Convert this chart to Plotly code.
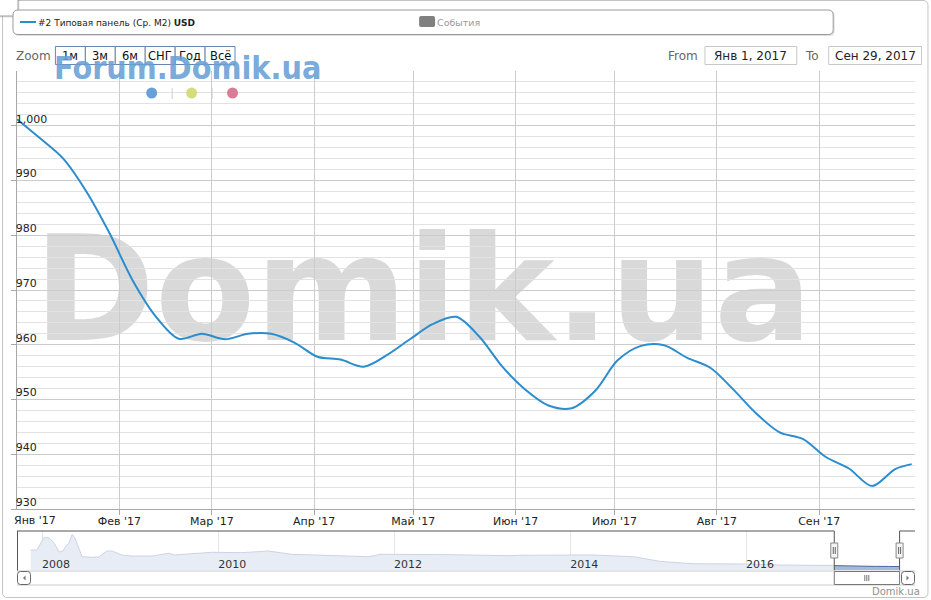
import plotly.graph_objects as go

# ---------------- data ----------------
series_name = "#2 Типовая панель (Ср. М2)"
currency = "USD"
events_name = "События"

dates = ["2017-01-01", "2017-01-08", "2017-01-15", "2017-01-22", "2017-01-29",
         "2017-02-05", "2017-02-12", "2017-02-19", "2017-02-26", "2017-03-05",
         "2017-03-12", "2017-03-19", "2017-03-26", "2017-04-02", "2017-04-09",
         "2017-04-16", "2017-04-23", "2017-04-30", "2017-05-07", "2017-05-14",
         "2017-05-21", "2017-05-28", "2017-06-04", "2017-06-11", "2017-06-18",
         "2017-06-25", "2017-07-02", "2017-07-09", "2017-07-16", "2017-07-23",
         "2017-07-30", "2017-08-06", "2017-08-13", "2017-08-20", "2017-08-27",
         "2017-09-03", "2017-09-10", "2017-09-17", "2017-09-24", "2017-09-29"]
values = [1001.2, 997.7, 994.0, 988.0, 980.4,
          971.8, 965.2, 961.1, 962.0, 961.0,
          962.0, 962.0, 960.4, 957.8, 957.3,
          956.0, 958.1, 961.0, 963.8, 965.1,
          961.5, 956.0, 951.8, 948.9, 948.4,
          951.5, 957.2, 959.8, 959.9, 957.6,
          955.8, 951.8, 947.4, 944.0, 942.8,
          939.5, 937.4, 934.2, 937.3, 938.2]

nav_dates = ["2007-11-15", "2007-12-10", "2008-01-09", "2008-01-30", "2008-02-20",
             "2008-03-12", "2008-03-28", "2008-04-10", "2008-04-22", "2008-05-05",
             "2008-05-17", "2008-06-03", "2008-06-15", "2008-07-27", "2008-08-24",
             "2008-09-26", "2008-10-17", "2008-11-27", "2009-01-08", "2009-04-01",
             "2009-06-10", "2009-07-04", "2009-12-05", "2010-04-08", "2010-07-28",
             "2010-11-01", "2011-04-15", "2011-09-16", "2011-11-08", "2012-07-14",
             "2013-04-17", "2013-06-10", "2014-03-27", "2014-09-21", "2015-01-11",
             "2015-05-27", "2015-12-20", "2016-05-23", "2016-12-25"]
nav_values = [2084, 2084, 2935, 2935, 2568,
              1946, 2015, 2382, 2568, 3170,
              2893, 2200, 1620, 1580, 1600,
              2015, 2015, 1738, 1669, 1669,
              1856, 1738, 1925, 1900, 2015,
              1787, 1680, 1620, 1787, 1770,
              1690, 1720, 1740, 1620, 1295,
              1130, 1116, 1046, 1012]

month_ticks = ["2017-01-01", "2017-02-01", "2017-03-01", "2017-04-01", "2017-05-01",
               "2017-06-01", "2017-07-01", "2017-08-01", "2017-09-01"]
month_labels = ["Янв '17", "Фев '17", "Мар '17", "Апр '17", "Май '17",
                "Июн '17", "Июл '17", "Авг '17", "Сен '17"]
y_ticks = [930, 940, 950, 960, 970, 980, 990, 1000]
nav_year_ticks = ["2008-01-01", "2010-01-01", "2012-01-01", "2014-01-01", "2016-01-01"]
nav_year_labels = ["2008", "2010", "2012", "2014", "2016"]
zoom_buttons = ["1м", "3м", "6м", "СНГ", "Год", "Всё"]
from_text = "Янв 1, 2017"
to_text = "Сен 29, 2017"

# ---------------- geometry helpers ----------------
W, H = 931, 600
ML, MR, MT, MB = 15, 16, 71, 30
PW = W - ML - MR
PH = H - MT - MB


def X(x):
    return (x - ML) / PW


def Y(y):
    return (H - MB - y) / PH


def rrect_path(x0, y0, x1, y1, r):
    return (f"M{X(x0 + r)},{Y(y0)} L{X(x1 - r)},{Y(y0)} Q{X(x1)},{Y(y0)} {X(x1)},{Y(y0 + r)} "
            f"L{X(x1)},{Y(y1 - r)} Q{X(x1)},{Y(y1)} {X(x1 - r)},{Y(y1)} "
            f"L{X(x0 + r)},{Y(y1)} Q{X(x0)},{Y(y1)} {X(x0)},{Y(y1 - r)} "
            f"L{X(x0)},{Y(y0 + r)} Q{X(x0)},{Y(y0)} {X(x0 + r)},{Y(y0)} Z")


FONT = "DejaVu Sans"
LINE = "#2b8cce"

fig = go.Figure()

# main series
fig.add_trace(go.Scatter(
    x=dates, y=values, mode="lines", name=series_name,
    line=dict(color=LINE, width=2, shape="spline", smoothing=0.9),
    xaxis="x", yaxis="y", hoverinfo="skip", showlegend=False))

# navigator series (full history + current)
fig.add_trace(go.Scatter(
    x=nav_dates + dates, y=nav_values + values, mode="lines",
    line=dict(color="#cbd4e6", width=1), fill="tozeroy", fillcolor="#e8ecf4",
    xaxis="x2", yaxis="y2", hoverinfo="skip", showlegend=False))
fig.add_trace(go.Scatter(
    x=dates, y=values, mode="lines",
    line=dict(color="#4a6ca6", width=1), fill="tozeroy", fillcolor="#a9b8d8",
    xaxis="x2", yaxis="y2", hoverinfo="skip", showlegend=False))

shapes = []
annotations = []

# outer frame
shapes.append(dict(type="path", xref="paper", yref="paper", path=rrect_path(0.5, 0.5, 928, 597.5, 5),
                   line=dict(color="#c4c4c4", width=1), fillcolor="rgba(0,0,0,0)", layer="below"))

# watermark (below grid)
shapes.append(dict(type="rect", xref="paper", yref="paper",
                   x0=X(39), x1=X(805), y0=Y(340), y1=Y(217),
                   line=dict(width=0), fillcolor="rgba(0,0,0,0)", layer="below",
                   label=dict(text="Domik.ua", textposition="middle center",
                              font=dict(family=FONT, size=146, color="#d9d9d9", weight="bold"))))

# small top-left box
shapes.append(dict(type="path", xref="paper", yref="paper", path=rrect_path(-6, -6, 17.5, 17.5, 4),
                   line=dict(width=0), fillcolor="rgba(0,0,0,0.12)"))
shapes.append(dict(type="path", xref="paper", yref="paper", path=rrect_path(-6, -6, 16, 16, 4),
                   line=dict(color="#a0a0a0", width=1), fillcolor="white"))

# legend box
shapes.append(dict(type="path", xref="paper", yref="paper", path=rrect_path(12, 11, 834.5, 36, 5),
                   line=dict(width=0), fillcolor="rgba(0,0,0,0.12)"))
shapes.append(dict(type="path", xref="paper", yref="paper", path=rrect_path(11, 10, 833, 34.5, 5),
                   line=dict(color="#9a9a9a", width=1), fillcolor="white"))
shapes.append(dict(type="line", xref="paper", yref="paper", x0=X(18), x1=X(34), y0=Y(22), y1=Y(22),
                   line=dict(color=LINE, width=2)))
annotations.append(dict(xref="paper", yref="paper", x=X(34), y=Y(22.5), xanchor="left", yanchor="middle",
                        text=f"{series_name} <b>{currency}</b>", showarrow=False,
                        font=dict(family=FONT, size=9, color="#222")))
shapes.append(dict(type="path", xref="paper", yref="paper", path=rrect_path(418, 16, 434, 27, 2),
                   line=dict(width=0), fillcolor="#808080"))
annotations.append(dict(xref="paper", yref="paper", x=X(434), y=Y(22.5), xanchor="left", yanchor="middle",
                        text=events_name, showarrow=False,
                        font=dict(family=FONT, size=9.5, color="#999999")))

# zoom buttons
annotations.append(dict(xref="paper", yref="paper", x=X(11.5), y=Y(56), xanchor="left", yanchor="middle",
                        text="Zoom", showarrow=False, font=dict(family=FONT, size=12, color="#666666")))
bx0, bw = 53.5, 30
for i, lab in enumerate(zoom_buttons):
    x0 = bx0 + i * bw
    shapes.append(dict(type="rect", xref="paper", yref="paper", x0=X(x0), x1=X(x0 + bw),
                       y0=Y(64.5), y1=Y(46.5), line=dict(color="#6a84b2", width=1), fillcolor="white"))
    annotations.append(dict(xref="paper", yref="paper", x=X(x0 + bw / 2), y=Y(56), xanchor="center",
                            yanchor="middle", text=lab, showarrow=False, borderpad=0,
                            font=dict(family=FONT, size=11.5, color="#111")))

# from / to
annotations.append(dict(xref="paper", yref="paper", x=X(700), y=Y(56), xanchor="right", yanchor="middle",
                        text="From", showarrow=False, font=dict(family=FONT, size=12, color="#666666")))
shapes.append(dict(type="rect", xref="paper", yref="paper", x0=X(704.5), x1=X(796.5), y0=Y(64.5), y1=Y(46.5),
                   line=dict(color="#c8c8c8", width=1), fillcolor="white"))
annotations.append(dict(xref="paper", yref="paper", x=X(750.5), y=Y(56), xanchor="center", yanchor="middle",
                        text=from_text, showarrow=False, font=dict(family=FONT, size=12, color="#222")))
annotations.append(dict(xref="paper", yref="paper", x=X(803), y=Y(56), xanchor="left", yanchor="middle",
                        text="To", showarrow=False, font=dict(family=FONT, size=12, color="#666666")))
shapes.append(dict(type="rect", xref="paper", yref="paper", x0=X(828.5), x1=X(921.5), y0=Y(64.5), y1=Y(46.5),
                   line=dict(color="#c8c8c8", width=1), fillcolor="white"))
annotations.append(dict(xref="paper", yref="paper", x=X(875), y=Y(56), xanchor="center", yanchor="middle",
                        text=to_text, showarrow=False, font=dict(family=FONT, size=12, color="#222")))

# blue logo text + dots
annotations.append(dict(xref="paper", yref="paper", x=X(50), y=Y(68.5), xanchor="left", yanchor="middle",
                        text="<b>Forum.Domik.ua</b>", showarrow=False,
                        font=dict(family="DejaVu Sans Condensed", size=32, color="rgba(104,160,214,0.9)")))
for cx, col in [(150, "#6a9fd8"), (190, "#d5dc7e"), (231, "#dc7b95")]:
    shapes.append(dict(type="circle", xref="paper", yref="paper", x0=X(cx - 5.5), x1=X(cx + 5.5),
                       y0=Y(98.5), y1=Y(87.5), line=dict(width=0), fillcolor=col))
for sx in [170.5, 210.5]:
    shapes.append(dict(type="line", xref="paper", yref="paper", x0=X(sx), x1=X(sx), y0=Y(88), y1=Y(99),
                       line=dict(color="#cfcfcf", width=1)))

# first x label (shifted right like the original)
annotations.append(dict(xref="x", yref="paper", x=month_ticks[0], y=Y(520), xanchor="left",
                        yanchor="middle", xshift=-5, text=month_labels[0], showarrow=False,
                        font=dict(family=FONT, size=11, color="#222")))

# navigator outline / handles / scrollbar
NAV_START, NAV_END = "2007-09-19", "2017-12-02"
sel0, sel1 = dates[0], dates[-1]
OUT = "#555555"
shapes += [
    dict(type="line", xref="x2", yref="paper", x0=NAV_START, x1=sel0, y0=Y(531), y1=Y(531), line=dict(color=OUT, width=1)),
    dict(type="line", xref="x2", yref="paper", x0=sel0, x1=sel0, y0=Y(531), y1=Y(570.5), line=dict(color=OUT, width=1)),
    dict(type="line", xref="x2", yref="paper", x0=sel1, x1=sel1, y0=Y(531), y1=Y(570.5), line=dict(color=OUT, width=1)),
    dict(type="line", xref="x2", yref="paper", x0=sel1, x1=NAV_END, y0=Y(531), y1=Y(531), line=dict(color=OUT, width=1)),
    dict(type="line", xref="paper", yref="paper", x0=X(15.5), x1=X(15.5), y0=Y(531), y1=Y(571), line=dict(color=OUT, width=1)),
    # scrollbar track
    dict(type="line", xref="paper", yref="paper", x0=X(15), x1=X(915), y0=Y(571), y1=Y(571), line=dict(color="#cccccc", width=1)),
    dict(type="line", xref="paper", yref="paper", x0=X(15), x1=X(915), y0=Y(585), y1=Y(585), line=dict(color="#cccccc", width=1)),
    dict(type="path", xref="paper", yref="paper", path=rrect_path(15.5, 571.5, 28.5, 584.5, 3),
         line=dict(color="#666666", width=1), fillcolor="white"),
    dict(type="path", xref="paper", yref="paper",
         path=f"M{X(23.5)},{Y(575.5)} L{X(23.5)},{Y(580.5)} L{X(21)},{Y(578)} Z",
         line=dict(width=0), fillcolor="#777777"),
    dict(type="path", xref="paper", yref="paper", path=rrect_path(901.5, 571.5, 914.5, 584.5, 3),
         line=dict(color="#666666", width=1), fillcolor="white"),
    dict(type="path", xref="paper", yref="paper",
         path=f"M{X(906.5)},{Y(575.5)} L{X(906.5)},{Y(580.5)} L{X(909)},{Y(578)} Z",
         line=dict(width=0), fillcolor="#777777"),
    dict(type="rect", xref="x2", yref="paper", x0=sel0, x1=sel1, y0=Y(584.5), y1=Y(571.5),
         line=dict(color="#777777", width=1), fillcolor="white"),
]
for gx in [-2, 0, 2]:
    shapes.append(dict(type="line", xref="x2", yref="paper", xsizemode="pixel", xanchor="2017-05-16",
                       x0=gx, x1=gx, y0=Y(575), y1=Y(581), line=dict(color="#777777", width=1)))
for h in [sel0, sel1]:
    shapes.append(dict(type="rect", xref="x2", yref="paper", xsizemode="pixel", xanchor=h, x0=-3.5, x1=3.5,
                       y0=Y(558), y1=Y(543), line=dict(color="#888888", width=1), fillcolor="#f4f4f4"))
    for gx in [-1, 1]:
        shapes.append(dict(type="line", xref="x2", yref="paper", xsizemode="pixel", xanchor=h, x0=gx, x1=gx,
                           y0=Y(554), y1=Y(547), line=dict(color="#666666", width=1)))

# credit
annotations.append(dict(xref="paper", yref="paper", x=X(922), y=Y(591), xanchor="right", yanchor="middle",
                        text="Domik.ua", showarrow=False, font=dict(family=FONT, size=10, color="#909090")))

fig.update_layout(
    width=W, height=H,
    margin=dict(l=ML, r=MR, t=MT, b=MB, pad=0),
    paper_bgcolor="white", plot_bgcolor="rgba(0,0,0,0)",
    font=dict(family=FONT, size=11, color="#222"),
    showlegend=False,
    xaxis=dict(domain=[0, 1], anchor="y", type="date", range=["2017-01-01", "2017-09-30"],
               tickmode="array", tickvals=month_ticks, ticktext=[""] + month_labels[1:],
               showgrid=True, gridcolor="#cccccc", gridwidth=1, zeroline=False,
               showline=True, linecolor="#a8a8a8", linewidth=1,
               ticks="outside", ticklen=5, tickcolor="#a8a8a8", ticklabelstandoff=-3,
               tickfont=dict(family=FONT, size=11, color="#222"), fixedrange=True),
    yaxis=dict(domain=[Y(509), 1], anchor="x", range=[930, 1010],
               tickmode="array", tickvals=y_ticks, tickformat=",",
               ticklabelposition="inside", ticklabelshift=-7, ticklabelstandoff=-2,
               showgrid=True, gridcolor="#cccccc", zeroline=False,
               showline=True, linecolor="#a8a8a8", linewidth=1,
               ticks="outside", ticklen=5, tickcolor="#a8a8a8",
               minor=dict(tickmode="linear", tick0=930, dtick=2, showgrid=True, gridcolor="#e2e2e2"),
               tickfont=dict(family=FONT, size=11, color="#222"), fixedrange=True),
    xaxis2=dict(domain=[0, 1], anchor="y2", type="date", range=[NAV_START, NAV_END],
                tickmode="array", tickvals=nav_year_ticks, ticktext=nav_year_labels,
                ticklabelposition="inside right", ticklabelstandoff=-6, showgrid=True, gridcolor="#e6e6e6",
                showline=False, zeroline=False, ticks="",
                tickfont=dict(family=FONT, size=11, color="#333"), fixedrange=True),
    yaxis2=dict(domain=[0, Y(531)], anchor="x2", range=[700, 3400], visible=False, fixedrange=True),
    shapes=shapes,
    annotations=annotations,
)

fig.write_html("out.html", config={"displayModeBar": False},
               post_script="document.body.style.margin='0px';")
